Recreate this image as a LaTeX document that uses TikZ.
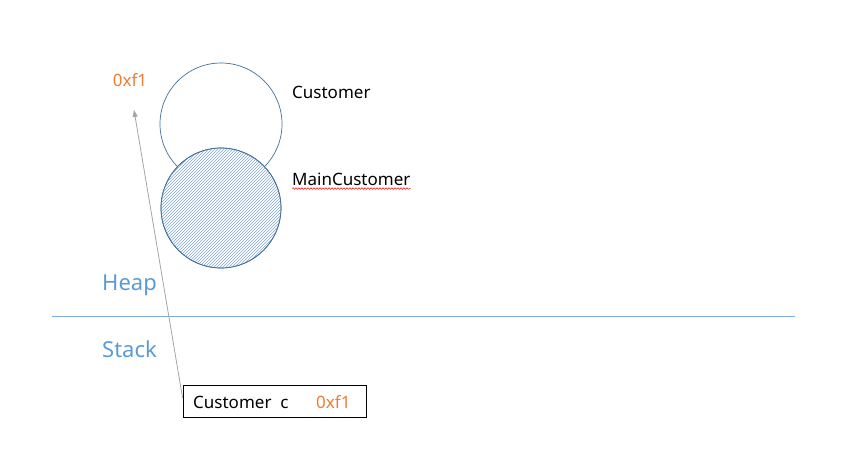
\documentclass[tikz,border=0pt]{standalone}
\usepackage{fontspec}
\setmainfont{Noto Sans}
\usetikzlibrary{patterns,decorations.pathmorphing,arrows.meta}
\definecolor{objblue}{HTML}{41719C}
\definecolor{hatchblue}{HTML}{4F81BD}
\definecolor{lblblue}{HTML}{5B9BD5}
\definecolor{addrorange}{HTML}{ED7D31}
\definecolor{ptrgray}{HTML}{A5A5A5}
\tikzset{
  obj/.style={circle, draw=objblue, line width=0.7pt, minimum size=122pt, inner sep=0pt},
  lbl/.style={anchor=west, inner sep=0pt, font=\fontsize{17}{20}\selectfont},
  region/.style={anchor=west, inner sep=0pt, text=lblblue, font=\fontsize{22}{26}\selectfont},
  addr/.style={inner sep=0pt, text=addrorange, font=\fontsize{17}{20}\selectfont},
}
\begin{document}
\begin{tikzpicture}[x=1pt,y=-1pt]
\useasboundingbox (0,0) rectangle (846,457);
% objects
\node[obj, fill=white] (cust) at (221,124) {};
\node[obj, fill=white, minimum size=120pt] (mainw) at (221,208) {};
\node[obj, pattern=north east lines, pattern color=hatchblue!70, minimum size=120pt] (main) at (221,208) {};
\node[lbl] (custlbl) at (292,92) {Customer};
\node[lbl] (mainlbl) at (292,179) {MainCustomer};
\draw[red, line width=0.5pt, decorate, decoration={snake, amplitude=0.8pt, segment length=3pt}]
  ([yshift=-3pt]mainlbl.south west) -- ([yshift=-3pt]mainlbl.south east);
\node[addr] (heapaddr) at (130,80) {0xf1};
% divider
\coordinate (divl) at (52,316);
\coordinate (divr) at (795,316);
\draw[lblblue!80, line width=0.8pt] (divl) -- (divr);
\node[region] (heap) at (102,285) {Heap};
\node[region] (stack) at (102,349) {Stack};
% stack variable
\node[draw=black, line width=0.8pt, minimum width=183pt, minimum height=32pt, inner sep=0pt] (var) at (274.5,401) {};
\node[lbl] (varname) at (193,402) {Customer\ \ c};
\node[addr, anchor=west] (varaddr) at (316,402) {0xf1};
% pointer
\coordinate (ptrtip) at (134,110);
\draw[ptrgray, line width=0.8pt, -{Triangle[length=7pt,width=5pt]}] (var.west) ++(0,-3) -- (ptrtip);
\end{tikzpicture}
\end{document}
